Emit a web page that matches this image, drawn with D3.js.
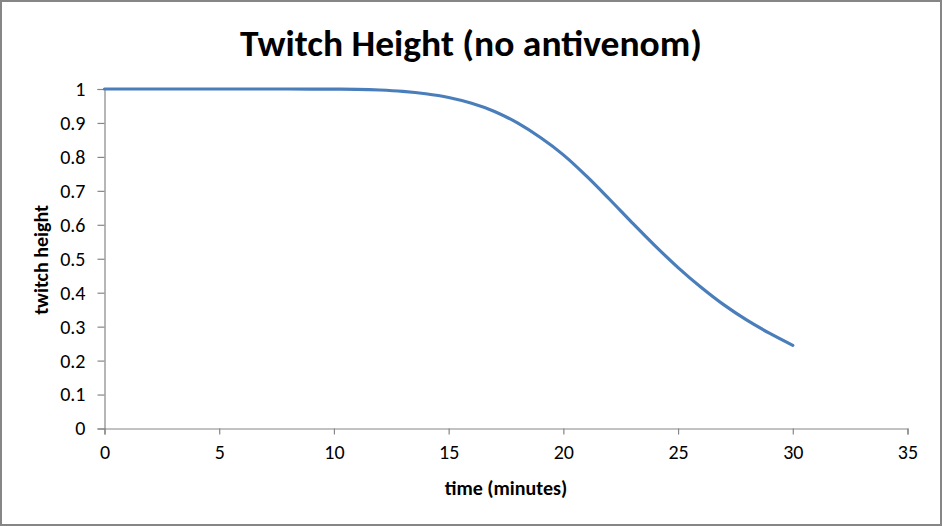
<!DOCTYPE html>
<html><head><meta charset="utf-8">
<script src="https://cdn.jsdelivr.net/npm/d3@7"></script>
<style>body{margin:0;background:#fff}svg{display:block}</style>
</head><body>
<script>
const minutes = [0,1,2,3,4,5,6,7,8,9,10,11,12,13,14,15,16,17,18,19,20,21,22,23,24,25,26,27,28,29,30];
const twitchHeight = [1,1,1,1,1,1,1,1,1,0.9998,0.9995,0.999,0.997,0.993,0.986,0.975,0.958,0.934,0.900,0.857,0.806,0.744,0.676,0.606,0.538,0.474,0.416,0.364,0.319,0.280,0.245];
const xTicks = [0,5,10,15,20,25,30,35];
const yTicks = [0,0.1,0.2,0.3,0.4,0.5,0.6,0.7,0.8,0.9,1];
const titleText = "Twitch Height (no antivenom)";
const xTitle = "time (minutes)";
const yTitle = "twitch height";

const W = 942, H = 526;
const svg = d3.select("body").append("svg").attr("width", W).attr("height", H);
svg.append("rect").attr("x",1).attr("y",1).attr("width",W-2).attr("height",H-2)
  .attr("fill","#fff").attr("stroke","#868686").attr("stroke-width",2);

const x = d3.scaleLinear().domain([0,35]).range([104.5,907.5]);
const y = d3.scaleLinear().domain([0,1]).range([428.5,89]);
const font = "Calibri, Carlito, 'Liberation Sans', Arial, sans-serif";

const gx = svg.append("g").attr("transform","translate(0,428.5)")
  .call(d3.axisBottom(x).tickValues(xTicks).tickSize(6).tickPadding(10).tickFormat(d3.format("d")));
const gy = svg.append("g").attr("transform","translate(104.5,0)")
  .call(d3.axisLeft(y).tickValues(yTicks).tickSize(7).tickPadding(12).tickFormat(d => d3.format("")(d)));
[gx, gy].forEach(g => {
  g.selectAll("path,line").attr("stroke","#868686").attr("stroke-width",1.2);
  g.selectAll("text").attr("fill","#000").style("font-family",font).style("font-size","20px");
});

const line = d3.line().x((d,i)=>x(minutes[i])).y(d=>y(d)).curve(d3.curveCatmullRom.alpha(0.5));
svg.append("path").datum(twitchHeight).attr("d",line).attr("fill","none")
  .attr("stroke","#4a7ebb").attr("stroke-width",3.2).attr("stroke-linecap","round");

svg.append("text").attr("x",471).attr("y",56).attr("text-anchor","middle")
  .style("font-family",font).style("font-weight","bold").style("font-size","36px")
  .attr("textLength",462).attr("lengthAdjust","spacingAndGlyphs").text(titleText);
svg.append("text").attr("x",506).attr("y",495).attr("text-anchor","middle")
  .style("font-family",font).style("font-weight","bold").style("font-size","20px").text(xTitle);
svg.append("text").attr("transform","translate(48,260) rotate(-90)").attr("text-anchor","middle")
  .style("font-family",font).style("font-weight","bold").style("font-size","20px").text(yTitle);
</script>
</body></html>
